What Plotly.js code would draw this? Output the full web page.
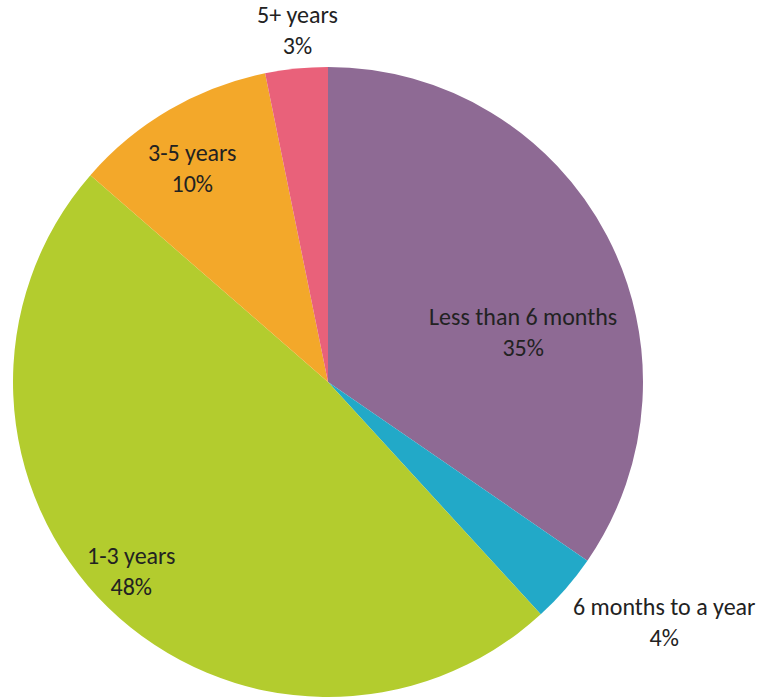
<!DOCTYPE html>
<html>
<head>
<meta charset="utf-8">
<script src="https://cdn.plot.ly/plotly-3.0.1.min.js"></script>
<style>html,body{margin:0;padding:0;background:#fff;}#chart{width:765px;height:700px;}</style>
</head>
<body>
<div id="chart"></div>
<script>
const labels = ["Less than 6 months", "6 months to a year", "1-3 years", "3-5 years", "5+ years"];
const values = [34.6, 3.6, 48.2, 10.4, 3.2];
const colors = ["#8E6A94", "#22A9C8", "#B3CC2E", "#F3A82A", "#E9617A"];
// label anchor positions in pixels (x, y) of the 765x700 canvas
const labelPosX = [523, 664, 131, 192, 297];
const labelPosY = [332, 622, 571, 168, 30];

const W = 765, H = 700;
const total = values.reduce((a, b) => a + b, 0);

const annotations = labels.map((l, i) => ({
  xref: "paper", yref: "paper",
  x: labelPosX[i] / W, y: 1 - labelPosY[i] / H,
  xanchor: "center", yanchor: "middle",
  text: l + "<br>" + Math.round(values[i] / total * 100 + 1e-9) + "%",
  showarrow: false,
  font: {family: "Carlito, Lato, 'Open Sans', sans-serif", size: 24, color: "#222222"}
}));

const cx = 328, cy = 382, r = 315;
const trace = {
  type: "pie",
  labels: labels,
  values: values,
  sort: false,
  direction: "clockwise",
  rotation: 0,
  marker: {colors: colors, line: {width: 0}},
  textinfo: "none",
  hoverinfo: "label+percent",
  domain: {x: [(cx - r) / W, (cx + r) / W], y: [(H - cy - r) / H, (H - cy + r) / H]}
};

Plotly.newPlot("chart", [trace], {
  width: W, height: H,
  margin: {l: 0, r: 0, t: 0, b: 0},
  showlegend: false,
  paper_bgcolor: "#ffffff",
  annotations: annotations
}, {displayModeBar: false, staticPlot: true});
</script>
</body>
</html>
